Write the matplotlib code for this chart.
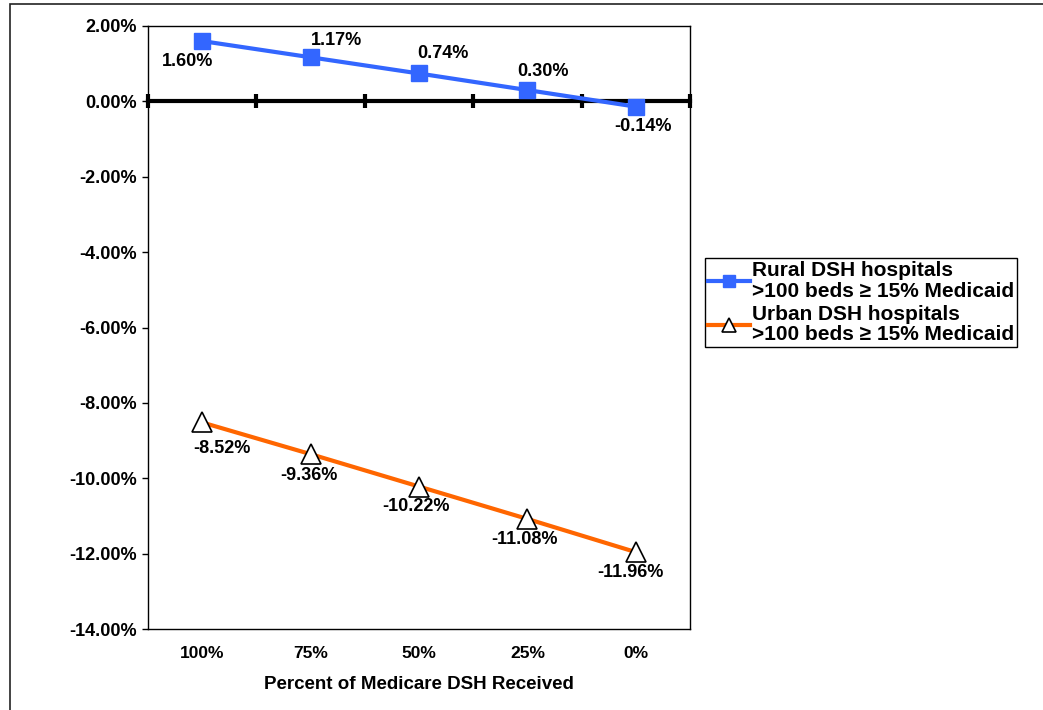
#!/usr/bin/env python3

import matplotlib
matplotlib.use("Agg")
import matplotlib.pyplot as plt
from matplotlib.patches import Rectangle
from matplotlib.ticker import FuncFormatter

plt.rcParams["font.family"] = ["Liberation Sans", "DejaVu Sans"]
plt.rcParams["font.weight"] = "bold"

categories = ["100%", "75%", "50%", "25%", "0%"]
rural = [1.60, 1.17, 0.74, 0.30, -0.14]
urban = [-8.52, -9.36, -10.22, -11.08, -11.96]
rural_label = "Rural DSH hospitals\n>100 beds \u2265 15% Medicaid"
urban_label = "Urban DSH hospitals\n>100 beds \u2265 15% Medicaid"

# label offsets in pixels
rural_offsets = [(-15, -20), (26, 17), (24, 20), (16, 19), (7, -20)]
urban_offsets = [(20, -26), (-2, -21), (-3, -20), (-3, -21), (-5, -20)]

W, H = 1043, 710
fig = plt.figure(figsize=(W / 100, H / 100), dpi=100)
ax = fig.add_axes([148 / W, 1 - 629 / H, 542 / W, 603 / H])

x = list(range(len(categories)))
ax.plot(x, rural, color="#3366ff", lw=3, marker="s", ms=11.5,
        mec="#3366ff", mfc="#3366ff", label=rural_label, zorder=4)
ax.plot(x, urban, color="#ff6600", lw=3, marker="^", ms=14,
        mec="black", mfc="white", mew=1.2, label=urban_label, zorder=4)

for xi, v, (dx, dy) in zip(x, rural, rural_offsets):
    ax.annotate(f"{v:.2f}%", (xi, v), xytext=(dx, dy), textcoords="offset pixels",
                ha="center", va="center", fontsize=13, fontweight="bold")
for xi, v, (dx, dy) in zip(x, urban, urban_offsets):
    ax.annotate(f"{v:.2f}%", (xi, v), xytext=(dx, dy), textcoords="offset pixels",
                ha="center", va="center", fontsize=13, fontweight="bold")

ax.set_xlim(-0.5, len(categories) - 0.5)
ax.set_ylim(-14, 2)
ax.set_yticks(range(-14, 3, 2))
ax.yaxis.set_major_formatter(FuncFormatter(lambda v, p: f"{v:.2f}%"))
ax.tick_params(axis="y", length=4, width=1, labelsize=13, pad=4)
ax.set_xticks(x)
ax.set_xticklabels(categories)
ax.tick_params(axis="x", length=0, labelsize=12.5, pad=12)
ax.set_xlabel("Percent of Medicare DSH Received", fontsize=13.5, fontweight="bold", labelpad=11)
for s in ax.spines.values():
    s.set_linewidth(1)

# category axis crossing at zero
zero_pos = (0 - (-14)) / 16
sec = ax.secondary_xaxis(zero_pos)
sec.set_xticks([i - 0.5 for i in range(len(categories) + 1)])
sec.set_xticklabels([])
sec.tick_params(direction="inout", length=10, width=3, color="black")
sec.spines["bottom"].set_linewidth(3)
sec.spines["top"].set_linewidth(3)

ax.legend(loc="upper left", bbox_to_anchor=(705 / W, 1 - 258 / H),
          bbox_transform=fig.transFigure, fontsize=15, frameon=True,
          fancybox=False, edgecolor="black", framealpha=1,
          handlelength=2.0, handletextpad=0.1, labelspacing=0.2,
          borderpad=0.15, borderaxespad=0, markerscale=0.7)
leg = ax.get_legend()
leg.get_frame().set_linewidth(1)
for t in leg.get_texts():
    t.set_fontweight("bold")
    t.set_linespacing(1.1)

fig.add_artist(Rectangle((10 / W, -0.1), 1.2, 1 - 4 / H + 0.1, transform=fig.transFigure,
                         fill=False, edgecolor="#222222", lw=1.2))

fig.savefig("out.png", dpi=100)
